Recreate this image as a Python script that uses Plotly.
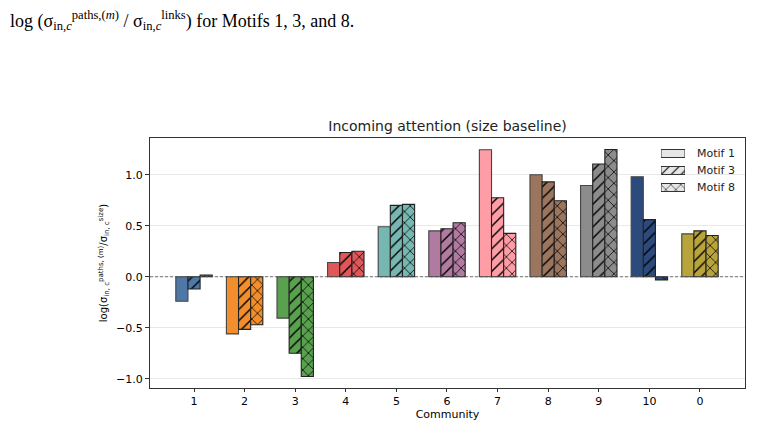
import plotly.graph_objects as go

communities = ["1", "2", "3", "4", "5", "6", "7", "8", "9", "10", "0"]
motif1 = [-0.24, -0.56, -0.405, 0.14, 0.49, 0.45, 1.245, 1.0, 0.895, 0.98, 0.42]
motif3 = [-0.12, -0.515, -0.75, 0.238, 0.70, 0.47, 0.775, 0.93, 1.105, 0.56, 0.45]
motif8 = [0.017, -0.47, -0.977, 0.25, 0.71, 0.53, 0.425, 0.745, 1.248, -0.03, 0.405]
colors = ["#4e79a7", "#f28e2b", "#59a14f", "#e15759", "#76b7b2", "#b07aa1",
          "#ff9da7", "#9c755f", "#8c8c8c", "#2c4a7c", "#b8a43a"]
motif_names = ["Motif 1", "Motif 3", "Motif 8"]
patterns = ["", "/", "x"]
series = [motif1, motif3, motif8]

xpos = list(range(len(communities)))
bw = 0.24

fig = go.Figure()
for k, (vals, pat) in enumerate(zip(series, patterns)):
    if pat:
        marker = dict(color="#000000", line=dict(color="#222222", width=1.1),
                      pattern=dict(shape=pat, fillmode="replace", bgcolor=colors,
                                   size=8, solidity=0.18))
    else:
        marker = dict(color=colors, line=dict(color="#444444", width=1.1))
    fig.add_trace(go.Bar(
        x=xpos, y=vals, width=bw, offset=-1.5 * bw + k * bw,
        marker=marker, showlegend=False, hoverinfo="skip"))

# legend swatches drawn as bars on a small helper axis
leg_rows = [0, 1, 2]
for name, pat, r in zip(motif_names, patterns, leg_rows):
    if pat:
        marker = dict(color="#000000", line=dict(color="#333333", width=1),
                      pattern=dict(shape=pat, fillmode="replace", bgcolor="#e6e6e6",
                                   size=7, solidity=0.15))
    else:
        marker = dict(color="#e6e6e6", line=dict(color="#333333", width=1))
    fig.add_trace(go.Bar(
        x=[1], y=[r], base=0, width=0.47, orientation="h", xaxis="x2", yaxis="y2",
        marker=marker, showlegend=False, hoverinfo="skip"))
    fig.add_annotation(xref="paper", yref="y2", x=(695 - 150) / 595, y=r, xanchor="left",
                       yanchor="middle", showarrow=False, text=name,
                       font=dict(size=11, family="DejaVu Sans", color="#222222"))

fig.add_shape(type="line", xref="paper", x0=0, x1=1, yref="y", y0=0, y1=0,
              line=dict(color="#555555", width=0.8, dash="3px,2px"))

font = "DejaVu Sans"
fig.update_layout(
    width=779, height=426, plot_bgcolor="white", paper_bgcolor="white",
    margin=dict(l=150, r=34, t=138, b=38),
    barmode="overlay", showlegend=False,
    font=dict(family=font, size=11, color="black"),
    title=dict(text="Incoming attention (size baseline)", x=0.5745, xanchor="center",
               y=1 - 126 / 426, yanchor="middle", font=dict(size=14, family=font, color="#222222")),
    xaxis=dict(range=[-0.87, 10.89], tickmode="array", tickvals=xpos, ticktext=communities,
               showgrid=False, zeroline=False, showline=True, linecolor="#333333", linewidth=1,
               mirror=True, ticks="outside", ticklen=3, tickcolor="#333333", automargin=False,
               title=dict(text="Community", standoff=0, font=dict(size=11))),
    yaxis=dict(range=[-1.09, 1.36], tickvals=[-1.0, -0.5, 0.0, 0.5, 1.0],
               ticktext=["\u22121.0", "\u22120.5", "0.0", "0.5", "1.0"],
               showgrid=True, gridcolor="#e8e8e8", gridwidth=1, zeroline=False,
               showline=True, linecolor="#333333", linewidth=1, mirror=True, automargin=False,
               ticks="outside", ticklen=4, tickcolor="#333333",
               title=dict(text="log(σ<sub>in, c</sub><sup>paths, (m)</sup>/σ<sub>in, c</sub><sup>size</sup>)",
                          standoff=6, font=dict(size=10))),
    xaxis2=dict(domain=[(661 - 150) / 595, (685 - 150) / 595], range=[0, 1], anchor="y2",
                visible=False, fixedrange=True),
    yaxis2=dict(domain=[(388 - 196) / 250, (388 - 145) / 250], range=[2.5, -0.5], anchor="x2",
                visible=False, fixedrange=True),
)

fig.add_annotation(xref="paper", yref="paper", x=-142 / 595, y=1 + 118 / 250,
                   xanchor="left", yanchor="middle", showarrow=False,
                   text="log (σ<sub>in,<i>c</i></sub><sup>paths,(<i>m</i>)</sup> / σ<sub>in,<i>c</i></sub><sup>links</sup>) for Motifs 1, 3, and 8.",
                   font=dict(family="Liberation Serif", size=18, color="black"))

fig.write_html("out.html")
